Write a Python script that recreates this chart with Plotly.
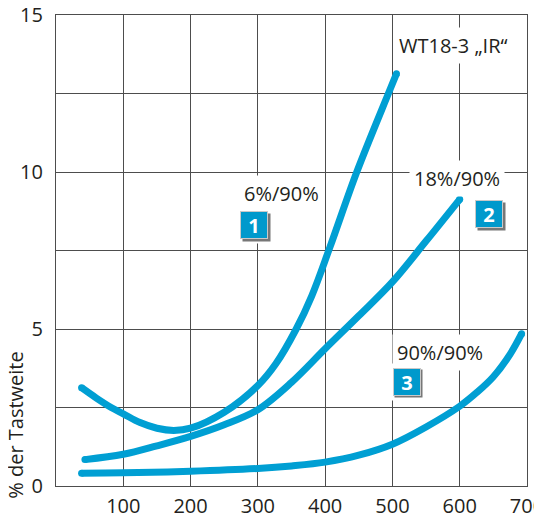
import plotly.graph_objects as go

# ---- data ----
x_6 = [38, 60, 82, 100, 125, 150, 175, 200, 250, 300, 327, 357, 380, 407, 447, 494, 506]
y_6 = [3.13, 2.8, 2.5, 2.3, 2.02, 1.84, 1.77, 1.84, 2.35, 3.2, 3.9, 5.0, 6.05, 7.6, 10.0, 12.5, 13.13]

x_18 = [43, 100, 150, 200, 250, 300, 350, 400, 450, 500, 550, 600]
y_18 = [0.84, 1.01, 1.28, 1.58, 1.95, 2.43, 3.3, 4.37, 5.42, 6.5, 7.8, 9.13]

x_90 = [38, 100, 200, 300, 350, 400, 450, 500, 550, 600, 625, 650, 675, 692]
y_90 = [0.41, 0.42, 0.47, 0.56, 0.64, 0.76, 0.98, 1.33, 1.88, 2.54, 2.97, 3.48, 4.2, 4.85]

x_ticks = [100, 200, 300, 400, 500, 600, 700]
y_ticks = [0, 5, 10, 15]
y_minor = [2.5, 7.5, 12.5]

BLUE = "#009fd3"
GRID = "#4d4d4d"
TXT = "#231f20"
FONT = "Open Sans"

fig = go.Figure()
for xs, ys in [(x_6, y_6), (x_18, y_18), (x_90, y_90)]:
    fig.add_trace(go.Scatter(x=xs, y=ys, mode="lines",
                             line=dict(color=BLUE, width=7, shape="spline", smoothing=1),
                             hoverinfo="skip", showlegend=False))
    fig.add_trace(go.Scatter(x=[xs[0], xs[-1]], y=[ys[0], ys[-1]], mode="markers",
                             marker=dict(color=BLUE, size=7, line=dict(width=0)),
                             hoverinfo="skip", showlegend=False, cliponaxis=False))

axis_common = dict(showline=True, mirror=True, linecolor=GRID, linewidth=1.2,
                   showgrid=True, gridcolor=GRID, gridwidth=1.2, zeroline=False,
                   automargin=False, tickfont=dict(family=FONT, size=20, color=TXT),
                   ticks="", ticklabeloverflow="allow")

fig.update_xaxes(range=[0, 700], tickvals=x_ticks, ticktext=[str(v) for v in x_ticks],
                 ticklabelstandoff=2, **axis_common)
fig.update_yaxes(range=[0, 15], tickvals=y_ticks, ticktext=[str(v) for v in y_ticks],
                 ticklabelstandoff=8,
                 minor=dict(tickvals=y_minor, showgrid=True, gridcolor=GRID, gridwidth=1.2),
                 **axis_common)

annotations = []
# text labels with white background
for txt, ax, ay in [("WT18-3 „IR“", 590.6, 14.03), ("18%/90%", 596.3, 9.79),
                    ("6%/90%", 334.8, 9.30), ("90%/90%", 570.3, 4.25)]:
    annotations.append(dict(x=ax, y=ay, xref="x", yref="y", text=txt, showarrow=False,
                            font=dict(family=FONT, size=20, color=TXT),
                            bgcolor="white", borderpad=4, xanchor="center", yanchor="middle"))
# numbered boxes
for num, bx, by in [("1", 294.6, 8.3), ("2", 643.8, 8.66), ("3", 521, 3.32)]:
    annotations.append(dict(x=bx, y=by, xref="x", yref="y", text="", showarrow=False,
                            bgcolor="white", width=36, height=36, borderpad=0))
    annotations.append(dict(x=bx, y=by, xref="x", yref="y", text="", showarrow=False,
                            bgcolor="#777777", width=27, height=27, borderpad=0,
                            xshift=2, yshift=-2))
    annotations.append(dict(x=bx, y=by, xref="x", yref="y", text="<b>" + num + "</b>",
                            showarrow=False, font=dict(family=FONT, size=20, color="white"),
                            bgcolor="#0099cc", bordercolor="#c9c9c9", borderwidth=1,
                            width=26, height=26, borderpad=0))
# y axis title
annotations.append(dict(x=0, y=1.95, xref="paper", yref="y", text="% der Tastweite",
                        textangle=-90, showarrow=False, xshift=-40,
                        font=dict(family=FONT, size=20, color=TXT),
                        xanchor="center", yanchor="middle"))

# page body adds an 8px offset, so the figure is sized/margined to compensate
fig.update_layout(width=534, height=508, template="none",
                  margin=dict(l=48, r=15, t=7, b=30, pad=0),
                  paper_bgcolor="white", plot_bgcolor="white",
                  annotations=annotations, showlegend=False)

fig.write_html("out.html")
